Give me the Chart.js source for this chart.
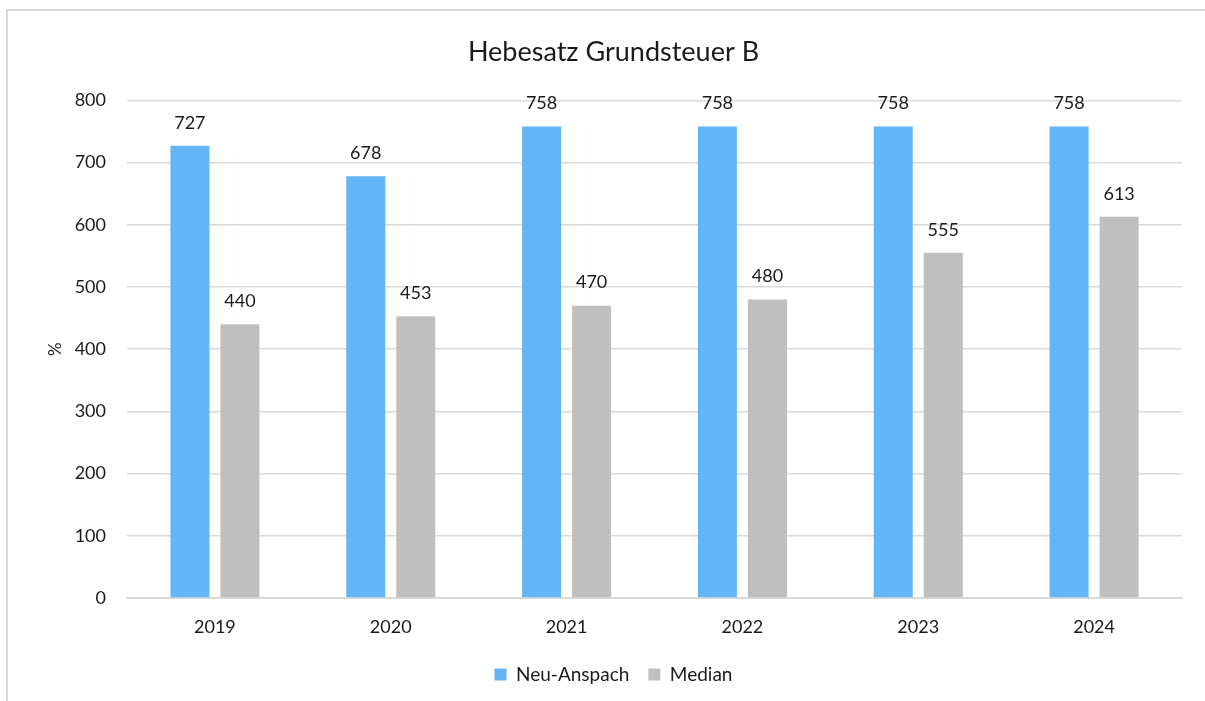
<!DOCTYPE html>
<html>
<head>
<meta charset="utf-8">
<script src="https://cdn.jsdelivr.net/npm/chart.js@4/dist/chart.umd.min.js"></script>
<style>
  html, body { margin: 0; padding: 0; background: #fff; overflow: hidden; }
  #frame {
    position: absolute; left: 6px; top: 9px; width: 1300px; height: 700px;
    border-left: 2px solid #D9D9D9; border-top: 2px solid #D9D9D9;
  }
  #wrap { position: absolute; left: 0; top: 0; width: 1202px; height: 690px; }
</style>
</head>
<body>
<div id="frame"><div id="wrap"><canvas id="chart"></canvas></div></div>
<script>
// --- Data ---
const years = ['2019', '2020', '2021', '2022', '2023', '2024'];
const neuAnspach = [727, 678, 758, 758, 758, 758];
const median = [440, 453, 470, 480, 555, 613];
const yTicks = [0, 100, 200, 300, 400, 500, 600, 700, 800];

const FONT = 'Lato, "Open Sans", sans-serif';
const TEXT = '#1a1a1a';
const GRID = '#D9D9D9';

// value labels above bars
const barLabels = {
    id: 'barLabels',
    afterDatasetsDraw(chart) {
        const ctx = chart.ctx;
        ctx.save();
        ctx.font = `18px ${FONT}`;
        ctx.fillStyle = TEXT;
        ctx.textAlign = 'center';
        ctx.textBaseline = 'middle';
        chart.data.datasets.forEach((ds, i) => {
            chart.getDatasetMeta(i).data.forEach((bar, j) => {
                ctx.fillText(String(ds.data[j]), bar.x, bar.y - 23);
            });
        });
        ctx.restore();
    }
};

new Chart(document.getElementById('chart'), {
    type: 'bar',
    data: {
        labels: years,
        datasets: [
            { label: 'Neu-Anspach', data: neuAnspach, backgroundColor: '#64B5F6' },
            { label: 'Median', data: median, backgroundColor: '#BFBFBF' }
        ]
    },
    options: {
        responsive: true,
        maintainAspectRatio: false,
        animation: false,
        datasets: { bar: { categoryPercentage: 0.569, barPercentage: 0.78 } },
        layout: { padding: { left: 37, right: 28, top: 0, bottom: 7 } },
        plugins: {
            title: {
                display: true,
                text: 'Hebesatz Grundsteuer B',
                color: TEXT,
                font: { family: FONT, size: 27, weight: 'normal' },
                padding: { top: 25, bottom: 32 }
            },
            legend: {
                position: 'bottom',
                labels: {
                    color: TEXT,
                    font: { family: FONT, size: 19 },
                    boxWidth: 12, boxHeight: 12,
                    padding: 19
                }
            },
            tooltip: { enabled: false }
        },
        scales: {
            x: {
                grid: { display: false },
                border: { color: GRID, width: 2 },
                ticks: { color: TEXT, font: { family: FONT, size: 18 }, padding: 10 },
                afterFit(scale) { scale.height = 48; }
            },
            y: {
                min: 0, max: 800,
                afterBuildTicks(scale) { scale.ticks = yTicks.map(v => ({ value: v })); },
                grid: { color: GRID, lineWidth: 1.5, drawTicks: false },
                border: { display: false },
                ticks: { color: TEXT, font: { family: FONT, size: 18 }, padding: 21 },
                title: {
                    display: true, text: '%', color: TEXT,
                    font: { family: FONT, size: 17 }, padding: 0
                },
                afterFit(scale) { scale.width = 82; }
            }
        }
    },
    plugins: [barLabels]
});
</script>
</body>
</html>
